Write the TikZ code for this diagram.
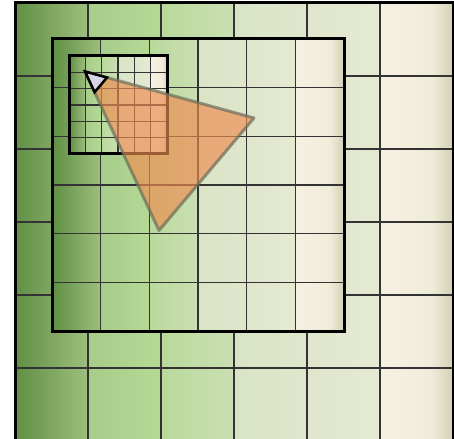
\documentclass[tikz,border=0pt]{standalone}
\usetikzlibrary{calc}
\definecolor{s0}{HTML}{5F8F44}
\definecolor{s1}{HTML}{9DBE7D}
\definecolor{s2}{HTML}{A7CD8A}
\definecolor{s3}{HTML}{B5D895}
\definecolor{s4}{HTML}{B9DA9B}
\definecolor{s5}{HTML}{CADFB3}
\definecolor{s6}{HTML}{D9E4C5}
\definecolor{s7}{HTML}{DFE6CC}
\definecolor{s8}{HTML}{DFE6CC}
\definecolor{s9}{HTML}{E5EAD3}
\definecolor{s10}{HTML}{F6F0E2}
\definecolor{s11}{HTML}{F0ECDA}
\definecolor{s12}{HTML}{D3D0B5}
\definecolor{trifill}{RGB}{238,140,80}
\definecolor{triedge}{HTML}{6A6E5A}
\definecolor{smallfill}{HTML}{D5D5E3}
\pgfdeclarehorizontalshading{bgshade}{100bp}{color(0bp)=(s0); color(25bp)=(s0); color(33.2bp)=(s1); color(33.4bp)=(s2); color(41.5bp)=(s3); color(41.7bp)=(s4); color(49.9bp)=(s5); color(50.1bp)=(s6); color(58.2bp)=(s7); color(58.4bp)=(s8); color(66.5bp)=(s9); color(66.7bp)=(s10); color(72.5bp)=(s11); color(75bp)=(s12); color(100bp)=(s12)}
\tikzset{
  gridline/.style={line width=1.4pt, draw=black!80},
  panelborder/.style={line width=3pt, draw=black},
  bigtri/.style={fill=trifill, fill opacity=0.66, draw=triedge, draw opacity=0.7, line width=3pt, line join=round},
  smalltri/.style={fill=smallfill, draw=black, line width=2.5pt, line join=miter}
}
\newcommand\drawpanel[3]{%
  \shade[shading=bgshade] (#1,#2) rectangle ++(#3,#3);
  \foreach \i in {1,...,5} {
    \draw[gridline] ($(#1,#2)+(\i*#3/6,0)$) -- ++(0,#3);
    \draw[gridline] ($(#1,#2)+(0,\i*#3/6)$) -- ++(#3,0);
  }
  \draw[panelborder] (#1,#2) rectangle ++(#3,#3);
}
\begin{document}
\begin{tikzpicture}[x=1pt,y=-1pt]
\useasboundingbox (0,0) rectangle (454,438);
\clip (0,0) rectangle (454,438);
\drawpanel{15}{3}{438}
\drawpanel{52}{39}{292}
\drawpanel{69}{56}{98}
\coordinate (A) at (85,71.5);
\coordinate (B) at (254,118);
\coordinate (C) at (159,230.5);
\draw[bigtri] (A) -- (B) -- (C) -- cycle;
\coordinate (B2) at ($(A)!0.13!(B)$);
\coordinate (C2) at ($(A)!0.13!(C)$);
\draw[smalltri] (A) -- (B2) -- (C2) -- cycle;
\end{tikzpicture}
\end{document}
